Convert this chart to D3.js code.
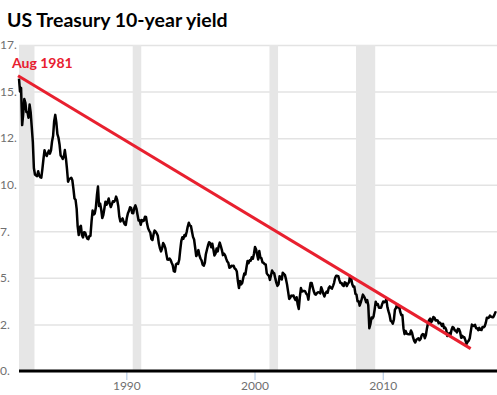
<!DOCTYPE html>
<html>
<head>
<meta charset="utf-8">
<script src="https://cdn.jsdelivr.net/npm/d3@7"></script>
<style>
  body { margin: 0; background: #fff; }
  svg { display: block; }
</style>
</head>
<body>
<svg id="chart" width="497" height="395"></svg>
<script>
// monthly 10-year yield, first value is Aug 1981
const firstMonth = [1981, 7];
const yields = [
    15.7, 15.0, 15.2, 13.2, 13.8,
    14.6, 14.4, 13.9, 13.9, 13.6, 14.3, 13.9, 13.1, 12.3, 10.9, 10.55, 10.5,
    10.46, 10.72, 10.51, 10.40, 10.38, 10.85, 11.38, 11.85, 11.65, 11.54, 11.69, 11.83,
    11.67, 11.84, 12.32, 12.63, 13.41, 13.75, 13.36, 12.72, 12.52, 12.16, 11.57, 11.50,
    11.38, 11.51, 11.86, 11.43, 10.85, 10.16, 10.31, 10.33, 10.37, 10.24, 9.78, 9.26,
    9.19, 8.70, 7.78, 7.30, 7.71, 7.80, 7.30, 7.17, 7.45, 7.43, 7.25, 7.11,
    7.08, 7.25, 7.25, 8.02, 8.61, 8.40, 8.45, 8.76, 9.42, 9.90, 8.86, 8.99,
    8.67, 8.21, 8.37, 8.72, 9.09, 8.92, 9.06, 9.26, 8.98, 8.80, 8.96, 9.11,
    9.09, 9.17, 9.36, 9.18, 8.86, 8.28, 8.02, 8.11, 8.19, 8.01, 7.87, 7.84,
    8.21, 8.47, 8.59, 8.79, 8.76, 8.48, 8.47, 8.75, 8.89, 8.72, 8.39, 8.08,
    8.09, 7.85, 8.11, 8.04, 8.07, 8.28, 8.27, 7.90, 7.65, 7.53, 7.42, 7.09,
    7.03, 7.34, 7.54, 7.48, 7.39, 7.26, 6.84, 6.59, 6.42, 6.59, 6.87, 6.77,
    6.60, 6.26, 5.98, 5.97, 6.04, 5.96, 5.81, 5.68, 5.36, 5.33, 5.72, 5.77,
    5.75, 5.97, 6.48, 6.97, 7.18, 7.10, 7.30, 7.24, 7.46, 7.74, 7.96, 7.81,
    7.78, 7.47, 7.20, 7.06, 6.63, 6.17, 6.28, 6.49, 6.20, 6.04, 5.93, 5.71,
    5.65, 5.81, 6.27, 6.51, 6.74, 6.91, 6.87, 6.64, 6.83, 6.53, 6.20, 6.30,
    6.58, 6.42, 6.69, 6.89, 6.71, 6.49, 6.22, 6.30, 6.21, 6.03, 5.88, 5.81,
    5.54, 5.57, 5.65, 5.64, 5.65, 5.50, 5.46, 5.34, 4.81, 4.45, 4.83, 4.65,
    4.72, 5.00, 5.23, 5.18, 5.54, 5.90, 5.79, 5.94, 5.92, 6.11, 6.03, 6.28,
    6.66, 6.52, 6.26, 5.99, 6.44, 6.10, 6.05, 5.83, 5.80, 5.74, 5.72, 5.24,
    5.16, 5.10, 4.89, 5.14, 5.39, 5.28, 5.24, 4.97, 4.73, 4.57, 4.65, 5.09,
    5.04, 4.91, 5.28, 5.21, 5.16, 4.93, 4.65, 4.26, 3.87, 3.94, 4.05, 4.03,
    4.05, 3.90, 3.81, 3.96, 3.57, 3.33, 3.98, 4.45, 4.27, 4.29, 4.30, 4.27,
    4.15, 4.08, 3.83, 4.35, 4.72, 4.73, 4.50, 4.28, 4.13, 4.10, 4.19, 4.23,
    4.22, 4.17, 4.50, 4.34, 4.14, 4.00, 4.18, 4.26, 4.20, 4.46, 4.54, 4.47,
    4.42, 4.57, 4.72, 4.99, 5.11, 5.11, 5.09, 4.88, 4.72, 4.73, 4.60, 4.56,
    4.76, 4.72, 4.56, 4.69, 4.75, 5.10, 5.00, 4.67, 4.52, 4.53, 4.15, 4.10,
    3.74, 3.74, 3.51, 3.68, 3.88, 4.10, 4.01, 3.89, 3.69, 3.81, 3.53, 2.30,
    2.52, 2.87, 2.82, 2.93, 3.29, 3.72, 3.56, 3.59, 3.40, 3.39, 3.40, 3.59,
    3.73, 3.69, 3.73, 3.85, 3.42, 3.20, 3.01, 2.70, 2.65, 2.54, 2.76, 3.29,
    3.39, 3.58, 3.41, 3.46, 3.17, 3.00, 3.00, 2.30, 1.98, 2.15, 2.01, 1.98,
    1.97, 1.97, 2.17, 2.05, 1.80, 1.62, 1.53, 1.68, 1.72, 1.75, 1.65, 1.72,
    1.91, 1.98, 1.96, 1.76, 1.93, 2.30, 2.58, 2.74, 2.81, 2.62, 2.72, 2.90,
    2.86, 2.71, 2.72, 2.71, 2.56, 2.60, 2.54, 2.42, 2.53, 2.30, 2.33, 2.21,
    1.88, 1.98, 2.04, 1.94, 2.20, 2.36, 2.32, 2.17, 2.17, 2.07, 2.26, 2.24,
    2.09, 1.78, 1.89, 1.81, 1.81, 1.64, 1.45, 1.56, 1.63, 1.76, 2.14, 2.49,
    2.43, 2.42, 2.48, 2.30, 2.30, 2.19, 2.32, 2.21, 2.20, 2.36, 2.35, 2.40,
    2.58, 2.86, 2.84, 2.87, 2.98, 2.91, 2.89, 2.89, 3.00, 3.15, 3.12
];

// recessions (start, end)
const recessions = [
    ['1981-07-01', '1982-11-01'],
    ['1990-07-01', '1991-03-01'],
    ['2001-03-01', '2001-11-01'],
    ['2007-12-01', '2009-06-01']
];

// red trend line endpoints
const trendDates = ['1981-07-20', '2016-11-10'];
const trendValues = [15.85, 1.2];

const yTicks = [0, 2.5, 5, 7.5, 10, 12.5, 15, 17.5];
const yTickLabels = ['0.', '2.', '5.', '7.', '10.', '12.', '15.', '17.'];
const xTicks = [1990, 2000, 2010];

const svg = d3.select('#chart');
const W = +svg.attr('width');
const H = +svg.attr('height');
const margin = { top: 45, right: 0, bottom: 24, left: 19 };

const parse = d3.timeParse('%Y-%m-%d');

let series = yields.map((v, i) => ({
    date: new Date(firstMonth[0], firstMonth[1] + i, 15),
    value: v
}));
series[0].date = parse('1981-08-17');

const x = d3.scaleTime()
    .domain([parse('1981-08-17'), parse('2018-12-01')])
    .range([margin.left, W - margin.right]);

const y = d3.scaleLinear()
    .domain([0, 17.5])
    .range([H - margin.bottom, margin.top]);

// gridlines + y labels
const yAxis = svg.append('g')
    .attr('transform', `translate(${margin.left},0)`)
    .call(d3.axisLeft(y)
        .tickValues(yTicks)
        .tickSize(-(W - margin.left - margin.right))
        .tickFormat((d, i) => yTickLabels[i]));
yAxis.select('.domain').remove();
yAxis.selectAll('.tick line')
    .attr('stroke', '#e3e3e3')
    .attr('stroke-width', 1.5);
yAxis.selectAll('.tick text')
    .attr('x', -margin.left)
    .attr('text-anchor', 'start')
    .attr('fill', '#707070')
    .style('font-family', 'Lato, sans-serif')
    .style('font-size', '12px');

// recession bands
svg.append('g')
    .selectAll('rect')
    .data(recessions)
    .join('rect')
    .attr('x', d => Math.max(margin.left, x(parse(d[0]))))
    .attr('width', d => x(parse(d[1])) - Math.max(margin.left, x(parse(d[0]))))
    .attr('y', y(17.5))
    .attr('height', y(0) - y(17.5))
    .attr('fill', '#e6e6e6');

// x axis
const xAxis = svg.append('g')
    .attr('transform', `translate(0,${y(0)})`)
    .call(d3.axisBottom(x)
        .tickValues(xTicks.map(yr => new Date(yr, 0, 1)))
        .tickSize(9)
        .tickFormat(d3.timeFormat('%Y')));
xAxis.select('.domain').remove();
xAxis.selectAll('.tick line')
    .attr('stroke', '#a9c1e0');
xAxis.selectAll('.tick text')
    .attr('fill', '#707070')
    .attr('y', 10)
    .attr('dy', '0.71em')
    .style('font-family', 'Lato, sans-serif')
    .style('font-size', '12px');

// yield line
const line = d3.line()
    .x(d => x(d.date))
    .y(d => y(d.value));

svg.append('path')
    .datum(series)
    .attr('fill', 'none')
    .attr('stroke', '#000')
    .attr('stroke-width', 2.5)
    .attr('stroke-linejoin', 'round')
    .attr('d', line);

// trend line
svg.append('line')
    .attr('x1', x(parse(trendDates[0])))
    .attr('y1', y(trendValues[0]))
    .attr('x2', x(parse(trendDates[1])))
    .attr('y2', y(trendValues[1]))
    .attr('stroke', '#e8202f')
    .attr('stroke-width', 3);

// baseline
svg.append('line')
    .attr('x1', margin.left)
    .attr('x2', W - margin.right)
    .attr('y1', y(0))
    .attr('y2', y(0))
    .attr('stroke', '#000')
    .attr('stroke-width', 3);

svg.append('text')
    .attr('x', 12)
    .attr('y', 68)
    .attr('fill', '#e8202f')
    .style('font-family', 'Lato, sans-serif')
    .style('font-weight', 'bold')
    .style('font-size', '14px')
    .text('Aug 1981');

svg.append('text')
    .attr('x', 7)
    .attr('y', 27)
    .attr('fill', '#000')
    .style('font-family', 'Lato, sans-serif')
    .style('font-weight', 'bold')
    .style('font-size', '19.5px')
    .text('US Treasury 10-year yield');
</script>
</body>
</html>
